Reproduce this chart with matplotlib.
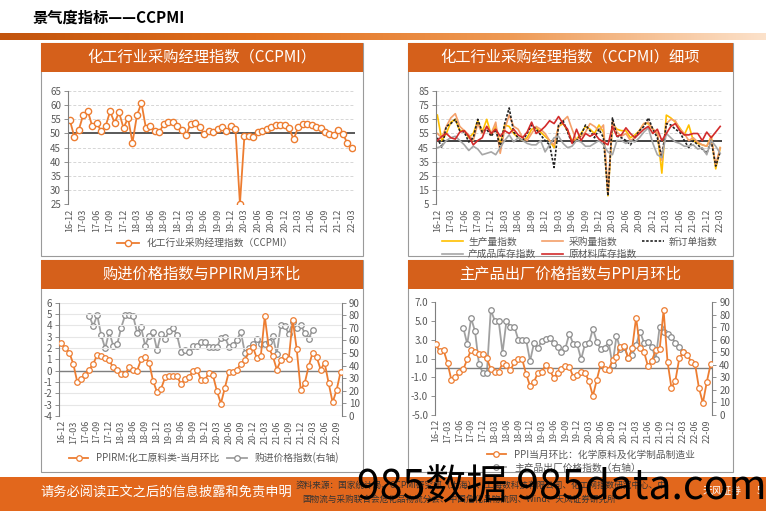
import numpy as np
import pandas as pd
import matplotlib
matplotlib.use("Agg")
import matplotlib.pyplot as plt
from matplotlib.patches import Rectangle
from matplotlib.colors import LinearSegmentedColormap

plt.rcParams['font.family'] = ['Noto Sans CJK SC', 'DejaVu Sans']
plt.rcParams['axes.unicode_minus'] = False

W, H = 766, 511

# ---- data -------------------------------------------------------------
months_a = [p.strftime('%y-%m') for p in pd.period_range('2016-12', '2022-03', freq='M')]
months_b = [p.strftime('%y-%m') for p in pd.period_range('2016-12', '2022-10', freq='M')]

ccpmi = [54.8, 48.9, 51.2, 56.6, 58.1, 52.6, 53.7, 50.9, 52.6, 57.8,
         53.8, 57.5, 51.9, 55.5, 46.8, 56.4, 60.8, 51.9, 52.5, 50.8,
         50.4, 53.5, 54.1, 53.9, 52.6, 51.2, 49.4, 53.5, 53.8, 52.3,
         49.8, 50.8, 50.4, 51.7, 52.2, 51.0, 52.5, 51.5, 25.2, 49.1,
         49.0, 48.9, 50.5, 50.9, 51.5, 52.2, 53.1, 52.9, 53.1, 51.8,
         47.9, 52.2, 53.5, 53.4, 53.0, 52.2, 51.8, 50.6, 49.9, 49.5,
         51.4, 49.9, 46.5, 44.9]

production = [68, 50, 55, 63, 65, 57, 57, 52, 55, 64,
              56, 65, 54, 60, 47, 61, 60, 55, 52, 50,
              52, 58, 59, 56, 53, 50, 45, 60, 62, 57,
              50, 51, 55, 60, 58, 55, 61, 56, 11, 62,
              58, 57, 57, 52, 54, 57, 62, 62, 58, 55,
              27, 68, 66, 63, 59, 54, 61, 50, 48, 47,
              46, 53, 30, 45]
purchase = [55, 52, 60, 66, 69, 60, 57, 54, 50, 62,
            55, 60, 55, 63, 41, 58, 68, 60, 58, 52,
            50, 55, 60, 58, 55, 50, 47, 60, 64, 67,
            58, 50, 53, 56, 62, 60, 57, 61, 13, 64,
            56, 53, 55, 50, 52, 57, 62, 63, 58, 55,
            36, 62, 65, 64, 58, 55, 50, 52, 49, 47,
            46, 52, 33, 45]
new_orders = [52, 45, 60, 62, 65, 57, 56, 49, 52, 65,
              56, 58, 53, 58, 45, 62, 73, 56, 52, 50,
              55, 61, 58, 54, 50, 47, 31, 61, 64, 56,
              48, 50, 54, 61, 57, 52, 58, 52, 11, 66,
              53, 52, 50, 47, 52, 57, 60, 66, 58, 52,
              38, 62, 61, 58, 56, 50, 45, 50, 47, 44,
              41, 50, 32, 42]
finished_stock = [45, 46, 50, 52, 53, 50, 47, 43, 46, 44,
                  40, 41, 42, 40, 45, 50, 54, 49, 52, 50,
                  48, 47, 47, 50, 42, 47, 52, 53, 48, 45,
                  46, 50, 49, 46, 46, 48, 50, 47, 42, 40,
                  50, 50, 48, 50, 49, 52, 56, 59, 48, 40,
                  38, 55, 52, 49, 48, 46, 46, 47, 44, 45,
                  40, 50, 46, 41]
raw_stock = [50, 53, 55, 52, 51, 56, 57, 53, 47, 50,
             52, 60, 55, 58, 53, 57, 55, 58, 54, 52,
             56, 63, 55, 57, 60, 64, 62, 67, 62, 58,
             48, 58, 50, 55, 53, 55, 51, 49, 47, 60,
             53, 54, 59, 55, 52, 55, 58, 60, 55, 58,
             50, 55, 60, 62, 57, 54, 54, 55, 55, 50,
             56, 52, 56, 60]

ppirm = [2.4, 2.0, 1.6, 0.6, -1.0, -0.7, -0.4, 0.1, 0.6, 1.4,
         1.3, 1.1, 0.9, 0.3, 0.1, -0.3, -0.3, 0.3, 0.1, 0.0,
         1.0, 1.2, 0.7, -0.9, -1.9, -1.6, -0.6, -0.5, -0.5, -0.5,
         -1.2, -0.7, -0.6, 0.0, 0.1, -0.8, -0.8, -0.2, -0.4, -1.8,
         -2.9, -1.5, -0.1, -0.1, 0.1, 0.6, 0.9, 1.7, 2.1, 1.1,
         1.3, 4.8, 2.0, 1.3, 0.1, 0.9, 1.3, 1.0, 4.5, 1.9,
         -1.7, -1.1, 0.4, 1.6, 1.2, 0.1, 0.7, -1.1, -2.8, -1.7,
         -0.1]
# 购进价格指数, 17-07 .. 22-03
buy_price_start = 7
buy_price = [79.4, 71.5, 80.2, 64.1, 53.7, 67.0, 55.9, 56.9, 70.1, 80.2,
             80.2, 79.4, 66.2, 70.4, 55.9, 63.5, 66.4, 52.4, 65.4, 61.1,
             67.2, 69.9, 64.1, 50.8, 52.4, 50.8, 55.3, 55.9, 58.5, 58.5,
             54.8, 54.5, 54.5, 62.2, 62.7, 55.1, 56.4, 60.4, 66.7, 50.3,
             54.3, 56.9, 60.9, 56.9, 56.9, 59.0, 63.3, 49.5, 72.0, 71.5,
             65.4, 74.4, 69.6, 72.3, 65.9, 61.4, 68.6]

ppi = [2.53, 1.78, 1.89, 0.50, -1.31, -0.99, -0.42, -0.14, 0.93, 1.92,
       1.71, 1.46, 1.46, 1.04, -0.14, -0.38, -0.38, 0.50, 0.29, -0.25,
       0.61, 1.00, 0.93, -0.63, -1.91, -1.48, -0.49, -0.38, 0.33, -0.21,
       -1.02, -0.53, -0.14, 0.22, 0.15, -0.95, -0.77, -0.42, -0.53, -1.41,
       -2.98, -1.24, 0.43, -0.10, -0.21, 0.86, 1.14, 2.28, 2.35, 1.04,
       2.10, 5.37, 2.14, 1.75, 0.22, 0.79, 1.89, 2.00, 6.15, 0.68,
       -2.12, -1.34, 1.04, 1.68, 1.43, 0.68, 0.43, -2.12, -3.72, -1.48,
       0.47]
# 主产品出厂价格指数, 17-07 .. 22-03
out_price_start = 7
out_price = [69.8, 56.7, 77.2, 66.8, 40.5, 33.6, 33.6, 83.9, 75.4, 75.4,
             49.8, 75.4, 70.6, 70.6, 60.2, 60.2, 60.2, 43.1, 57.3, 53.3,
             59.4, 60.7, 61.5, 57.3, 54.6, 50.6, 53.3, 65.0, 56.7, 56.5,
             44.5, 56.7, 57.3, 68.7, 58.6, 52.7, 53.8, 58.1, 39.9, 63.1,
             52.5, 54.3, 45.8, 47.9, 55.9, 66.6, 57.8, 58.1, 54.6, 44.7,
             70.6, 66.0, 64.4, 62.6, 57.5, 54.6, 50.3]

ORANGE = '#ED7D31'
GRAY = '#A0A0A0'
HEADER = '#D5601B'
TXT = '#595959'


def px_rect(x0, y0, x1, y1):
    return [x0 / W, 1 - y1 / H, (x1 - x0) / W, (y1 - y0) / H]


fig = plt.figure(figsize=(W / 100, H / 100), dpi=100)

# background layer in pixel coordinates
bg = fig.add_axes([0, 0, 1, 1], zorder=-5)
bg.set_xlim(0, W)
bg.set_ylim(H, 0)
bg.axis('off')

bg.text(33, 18, '景气度指标——CCPMI', fontsize=11, fontweight='bold', va='center', ha='left')
cmap = LinearSegmentedColormap.from_list('bar', ['#C2540D', '#E2701F', '#EE9A55', '#FCE2CB'])
bg.imshow(np.linspace(0, 1, 256)[None, :], extent=[0, W, 40, 33], cmap=cmap, aspect='auto')

panels = [
    (41, 43, 363, 256, '化工行业采购经理指数（CCPMI）'),
    (408, 43, 733, 256, '化工行业采购经理指数（CCPMI）细项'),
    (41, 260, 363, 472, '购进价格指数与PPIRM月环比'),
    (408, 260, 733, 472, '主产品出厂价格指数与PPI月环比'),
]
for x0, y0, x1, y1, title in panels:
    bg.add_patch(Rectangle((x0, y0), x1 - x0, y1 - y0, fill=False, ec='#9A9A9A', lw=0.8))
    bg.add_patch(Rectangle((x0, y0), x1 - x0, 29, fc=HEADER, ec='none'))
    bg.text((x0 + x1) / 2, y0 + 14.5, title, color='white', fontsize=11, ha='center', va='center')

# footer
bg.add_patch(Rectangle((0, 477), W, 34, fc='#E2671C', ec='none'))
bg.text(40, 493, '请务必阅读正文之后的信息披露和免责申明', color='white', fontsize=9.5, va='center')
bg.text(296, 485, '资料来源：国家统计局、CCPMI研究部（上海）、上海数科技有限公司、化工网指数研究中心、中',
        fontsize=6.2, color='#333333', va='center')
bg.text(302, 499, '国物流与采购联合会危化品物流分会、中国危化品物流网、Wind、天风证券研究所',
        fontsize=6.2, color='#333333', va='center')
bg.text(703, 491, '天风证券', color='white', fontsize=7, va='center')
bg.text(757, 491, '5', color='white', fontsize=7, va='center')


def style_axes(ax, dashed=True, grid=True):
    for s in ['top', 'right', 'bottom']:
        ax.spines[s].set_visible(False)
    ax.spines['left'].set_color('#7F7F7F')
    ax.tick_params(axis='y', labelsize=7, colors=TXT, length=3, width=0.6, pad=2)
    ax.tick_params(axis='x', labelsize=6.5, colors=TXT, length=0, pad=3, labelrotation=90)
    ax.tick_params(axis='y', color='#7F7F7F')
    if grid:
        ax.yaxis.grid(True, ls=(0, (3, 2)) if dashed else '-', color='#D6D6D6', lw=0.7)
        ax.set_axisbelow(True)
    ax.set_facecolor('none')


# ---- panel 1 ----------------------------------------------------------
ax1 = fig.add_axes(px_rect(68, 91, 355, 204.3))
x1 = np.arange(len(ccpmi))
ax1.plot(x1, ccpmi, color=ORANGE, lw=1.3, marker='o', ms=4.5, mfc='white', mec=ORANGE, mew=1.0,
         label='化工行业采购经理指数（CCPMI）')
ax1.axhline(50, color='#595959', lw=1.4, zorder=1)
ax1.set_ylim(25, 65)
ax1.set_yticks(range(25, 66, 5))
ax1.set_xlim(-0.4, 63.7)
ax1.set_xticks(x1[::3])
ax1.set_xticklabels(months_a[::3])
style_axes(ax1)
ax1.legend(loc='center', bbox_to_anchor=(205 / W, 1 - 243 / H), bbox_transform=fig.transFigure,
           frameon=False, fontsize=7, handlelength=2.2, labelcolor=TXT)

# ---- panel 2 ----------------------------------------------------------
ax2 = fig.add_axes(px_rect(436, 91, 722, 204.3))
x2 = np.arange(len(production))
h_prod, = ax2.plot(x2, production, color='#FFC000', lw=1.2, label='生产量指数')
h_pur, = ax2.plot(x2, purchase, color='#F4A06A', lw=1.2, label='采购量指数')
h_new, = ax2.plot(x2, new_orders, color='#222222', lw=1.2, ls=(0, (1.5, 1)), label='新订单指数')
h_fin, = ax2.plot(x2, finished_stock, color='#A6A6A6', lw=1.2, label='产成品库存指数')
h_raw, = ax2.plot(x2, raw_stock, color='#D22B2B', lw=1.2, label='原材料库存指数')
ax2.axhline(50, color='#222222', lw=1.2, zorder=1)
ax2.set_ylim(5, 85)
ax2.set_yticks(range(5, 86, 10))
ax2.set_xlim(-0.3, 63.4)
ax2.set_xticks(x2[::3])
ax2.set_xticklabels(months_a[::3])
style_axes(ax2)
# order handles so the legend fills row by row
leg_h = [h_prod, h_fin, h_pur, h_raw, h_new]
ax2.legend(leg_h, [h.get_label() for h in leg_h], loc='upper left',
           bbox_to_anchor=(433 / W, 1 - 228 / H), bbox_transform=fig.transFigure,
           frameon=False, fontsize=7, ncol=3, handlelength=2.2, handletextpad=0.5,
           columnspacing=0.6, labelspacing=0.25, labelcolor=TXT)

# ---- panel 3 ----------------------------------------------------------
ax3 = fig.add_axes(px_rect(59, 302.7, 342, 416))
x3 = np.arange(len(ppirm))
xb3 = np.arange(buy_price_start, buy_price_start + len(buy_price))
ax3r = ax3.twinx()
l3a, = ax3.plot(x3, ppirm, color=ORANGE, lw=1.3, marker='o', ms=4, mfc='white', mec=ORANGE, mew=0.9,
                label='PPIRM:化工原料类-当月环比', zorder=3)
l3b, = ax3r.plot(xb3, buy_price, color=GRAY, lw=1.3, marker='o', ms=4, mfc='white', mec='#8C8C8C',
                 mew=0.9, label='购进价格指数(右轴)')
ax3.axhline(0, color='#7F7F7F', lw=1.0, zorder=1)
ax3.set_ylim(-4, 6)
ax3.set_yticks(range(-4, 7, 1))
ax3r.set_ylim(0, 90)
ax3r.set_yticks(range(0, 91, 10))
ax3.set_xlim(-0.58, 70.35)
ax3.set_xticks(x3[:70:3])
ax3.set_xticklabels(months_b[:70:3])
style_axes(ax3, dashed=False)
ax3.yaxis.grid(True, ls='-', color='#E6E6E6', lw=0.8)
for s in ['top', 'left', 'bottom']:
    ax3r.spines[s].set_visible(False)
ax3r.spines['right'].set_color('#7F7F7F')
ax3r.tick_params(axis='y', labelsize=7, colors=TXT, length=3, width=0.6, pad=2)
ax3r.tick_params(axis='y', color='#7F7F7F')
ax3.set_zorder(ax3r.get_zorder() + 1)
ax3.set_facecolor('none')
ax3.legend([l3a, l3b], [l3a.get_label(), l3b.get_label()], loc='center',
           bbox_to_anchor=(204 / W, 1 - 458 / H), bbox_transform=fig.transFigure,
           frameon=False, fontsize=7, ncol=2, handlelength=2.0, columnspacing=0.8, labelcolor=TXT)

# ---- panel 4 ----------------------------------------------------------
ax4 = fig.add_axes(px_rect(435, 302.3, 712.3, 415))
x4 = np.arange(len(ppi))
xb4 = np.arange(out_price_start, out_price_start + len(out_price))
ax4r = ax4.twinx()
l4a, = ax4.plot(x4, ppi, color=ORANGE, lw=1.3, marker='o', ms=4, mfc='white', mec=ORANGE, mew=0.9,
                label='PPI当月环比：化学原料及化学制品制造业', zorder=3)
l4b, = ax4r.plot(xb4, out_price, color=GRAY, lw=1.3, marker='o', ms=4, mfc='white', mec='#8C8C8C',
                 mew=0.9, label='主产品出厂价格指数（右轴）')
ax4.axhline(0, color='#7F7F7F', lw=1.0, zorder=1)
ax4.set_ylim(-5, 7)
ax4.set_yticks(np.arange(-5, 7.1, 2))
ax4.set_yticklabels(['%.1f' % v for v in np.arange(-5, 7.1, 2)])
ax4r.set_ylim(0, 90)
ax4r.set_yticks(range(0, 91, 10))
ax4.set_xlim(-0.2, 70.4)
ax4.set_xticks(x4[:70:3])
ax4.set_xticklabels(months_b[:70:3])
style_axes(ax4, grid=False)
for s in ['top', 'left', 'bottom']:
    ax4r.spines[s].set_visible(False)
ax4r.spines['right'].set_color('#7F7F7F')
ax4r.tick_params(axis='y', labelsize=7, colors=TXT, length=3, width=0.6, pad=2)
ax4r.tick_params(axis='y', color='#7F7F7F')
ax4.set_zorder(ax4r.get_zorder() + 1)
ax4.set_facecolor('none')
ax4.legend([l4a, l4b], [l4a.get_label(), l4b.get_label()], loc='upper left',
           bbox_to_anchor=(478 / W, 1 - 441 / H), bbox_transform=fig.transFigure,
           frameon=False, fontsize=7, ncol=1, handlelength=2.0, labelspacing=0.3, labelcolor=TXT)

# watermark, as on the source page
fig.text(357 / W, 1 - 488 / H, '985数据 985data.com', fontsize=29.5, color='black',
         va='center', ha='left', zorder=10)

fig.savefig('out.png', dpi=100)
